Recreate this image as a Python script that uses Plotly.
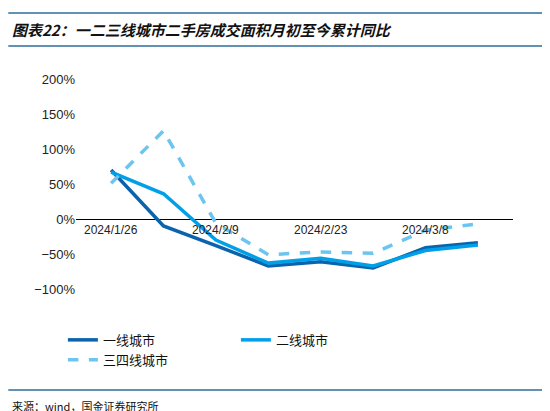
import plotly.graph_objects as go

dates = ['2024/1/26', '2024/2/2', '2024/2/9', '2024/2/16', '2024/2/23', '2024/3/1', '2024/3/8', '2024/3/15']
tier1 = [70, -10, -38, -67, -61, -70, -41, -34]
tier2 = [67, 36, -30, -63, -56, -67, -45, -37]
tier34 = [51, 126, -6, -51, -47, -49, -16, -7]
shown_ticks = ['2024/1/26', '2024/2/9', '2024/2/23', '2024/3/8']

font = 'Noto Sans CJK SC'
fig = go.Figure()
fig.add_trace(go.Scatter(x=dates, y=tier1, name='一线城市', mode='lines',
                         line=dict(color='#0a64ad', width=3.5)))
fig.add_trace(go.Scatter(x=dates, y=tier2, name='二线城市', mode='lines',
                         line=dict(color='#00a0e9', width=3.5)))
fig.add_trace(go.Scatter(x=dates, y=tier34, name='三四线城市', mode='lines',
                         line=dict(color='#6cc5f0', width=3.5, dash='dash')))

# date labels sit just under the zero line
for d in shown_ticks:
    fig.add_annotation(x=d, y=0, text=d, showarrow=False, yanchor='top', yshift=-2,
                       font=dict(size=12, color='#222', family='Liberation Sans'))

line_col = '#2c6e9a'
for yy in [1.157 + 33 / 210, 1.157, -0.481]:
    fig.add_shape(type='line', xref='paper', yref='paper', x0=-0.155, x1=1.1, y0=yy, y1=yy,
                  line=dict(color=line_col, width=1.5))

fig.add_annotation(xref='paper', yref='paper', x=-0.15, y=1.157 + 17 / 210,
                   text='<b><i>图表22：一二三线城市二手房成交面积月初至今累计同比</i></b>',
                   showarrow=False, xanchor='left', yanchor='middle', font=dict(size=15, color='#111', family=font))
fig.add_annotation(xref='paper', yref='paper', x=-0.15, y=-0.555, text='来源：wind，国金证券研究所',
                   showarrow=False, xanchor='left', yanchor='middle', font=dict(size=11, color='#111', family=font))

fig.update_layout(
    width=550, height=411, margin=dict(l=68, r=45, t=71, b=130, autoexpand=False),
    plot_bgcolor='white', paper_bgcolor='white', font=dict(family=font),
    showlegend=True,
    legend=dict(orientation='h', x=-0.03, y=-0.29, xanchor='left', yanchor='middle',
                entrywidth=128, font=dict(size=13, color='#111')),
    xaxis=dict(type='category', range=[-0.67, 7.67], showticklabels=False, showgrid=False,
               zeroline=False, showline=False, ticks=''),
    yaxis=dict(range=[-100, 200], dtick=50, ticksuffix='%', showgrid=False, zeroline=True,
               zerolinecolor='black', zerolinewidth=1, showline=False,
               tickfont=dict(size=13, color='#222', family='Liberation Sans')),
)
fig.write_html('out.html')
